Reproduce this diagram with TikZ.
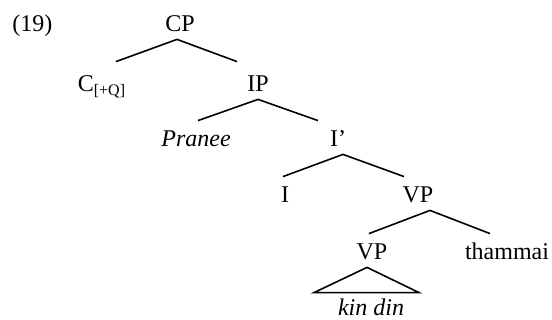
\documentclass[tikz,border=0pt]{standalone}
\usepackage{fontspec}
\setmainfont{Liberation Serif}
\usetikzlibrary{positioning}

\tikzset{
  cat/.style={inner sep=0pt, text height=13pt, text depth=3.5pt},
  branch/.style={line width=0.8pt},
}

\begin{document}
\begin{tikzpicture}[x=1pt, y=1pt, on grid, font=\fontsize{12}{14}\selectfont, every node/.style={cat}]
        \useasboundingbox (0,0) rectangle (276,-160);

        \node[anchor=base west] (ex) at (6,-16) {(19)};
        \node (cp) at (90,-11.25) {CP};
        \node (cq) [below left=30pt and 39pt of cp] {C\textsubscript{[+Q]}};
        \node (ip) [below right=30pt and 39pt of cp] {IP};
        \node (pranee) [below left=27.5pt and 31pt of ip] {\itshape Pranee};
        \node (ibar) [below right=27.5pt and 40pt of ip] {I’};
        \node (infl) [below left=28pt and 26.5pt of ibar] {I};
        \node (vp) [below right=28pt and 40pt of ibar] {VP};
        \node (vpb) [below left=28.5pt and 23pt of vp] {VP};
        \node (thammai) [below right=28.5pt and 44.5pt of vp] {thammai};
        \node (kindin) [below left=28.75pt and 0.5pt of vpb, text height=11.5pt] {\itshape kin din};


        
        \draw[branch]
        ([xshift=-1.5pt]cp.south) -- ([xshift=7pt, yshift=2pt]cq.north)
        ([xshift=-1.5pt]cp.south) -- ([xshift=-10.5pt, yshift=2pt]ip.north)
        (ip.south) -- ([xshift=1pt]pranee.north)
        (ip.south) -- ([xshift=-10pt]ibar.north)
        ([xshift=2.5pt]ibar.south) -- ([xshift=-1pt]infl.north)
        ([xshift=2.5pt]ibar.south) -- ([xshift=-7pt]vp.north)
        ([xshift=6pt]vp.south) -- ([xshift=-1.5pt]vpb.north)
        ([xshift=6pt]vp.south) -- ([xshift=-8.5pt]thammai.north);
        \draw[branch] ([xshift=-2.5pt]vpb.south) -- ([xshift=-28.5pt]kindin.north)
        -- ([xshift=24pt]kindin.north) -- cycle;
        
         
    \end{tikzpicture}
\end{document}
